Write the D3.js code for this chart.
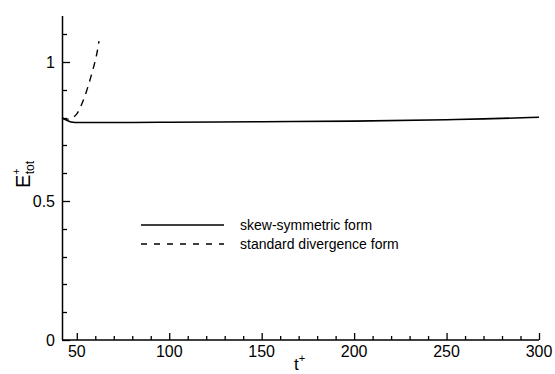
<!DOCTYPE html>
<html>
<head>
<meta charset="utf-8">
<script src="https://cdn.jsdelivr.net/npm/d3@7"></script>
<style>
body { margin: 0; background: #fff; }
text { font-family: "Liberation Sans", Arial, sans-serif; }
</style>
</head>
<body>
<script>
// data
var skewT = [42, 44, 46, 48, 50, 60, 80, 100, 150, 200, 250, 270, 300];
var skewE = [0.797, 0.792, 0.786, 0.783, 0.782, 0.782, 0.782, 0.783, 0.785, 0.787, 0.792, 0.795, 0.801];
var divT = [42, 44, 46, 48, 50, 52, 54, 56, 58, 60, 61, 62];
var divE = [0.800, 0.795, 0.794, 0.800, 0.813, 0.838, 0.870, 0.910, 0.955, 1.005, 1.035, 1.075];
var xTicks = [50, 100, 150, 200, 250, 300];
var yTicks = [0, 0.5, 1];
var legendLabels = ["skew-symmetric form", "standard divergence form"];

var w = 555, h = 374;
var mLeft = 62, mRight = 539, mTop = 16, mBottom = 340;

var svg = d3.select("body").append("svg")
	.attr("width", w)
	.attr("height", h);

var x = d3.scaleLinear().domain([42, 300]).range([mLeft, mRight]);
var y = d3.scaleLinear().domain([0, 1.165]).range([mBottom, mTop]);

// axes: ticks point inwards
var xMinor = d3.range(50, 301, 10).filter(function(d) { return xTicks.indexOf(d) < 0; });
var yMinor = [0.1, 0.2, 0.3, 0.4, 0.6, 0.7, 0.8, 0.9, 1.1];

var xAxis = svg.append("g").attr("transform", "translate(0," + mBottom + ")")
	.call(d3.axisTop(x).tickValues(xTicks).tickSize(7).tickFormat(""));
svg.append("g").attr("transform", "translate(0," + mBottom + ")")
	.call(d3.axisTop(x).tickValues(xMinor).tickSize(4).tickFormat(""))
	.select(".domain").remove();
xAxis.select(".domain").attr("d", "M" + mLeft + ",0H" + mRight);

// y axis line and ticks
function yPix(d) { return Math.round(y(d)) + 0.5; }
svg.append("line")
	.attr("x1", mLeft + 0.5).attr("x2", mLeft + 0.5)
	.attr("y1", mTop).attr("y2", mBottom)
	.attr("stroke", "#000").attr("stroke-width", 1.5);
svg.selectAll(".ymaj").data(yTicks).enter().append("line")
	.attr("class", "ymaj")
	.attr("x1", mLeft).attr("x2", mLeft + 8)
	.attr("y1", yPix)
	.attr("y2", yPix)
	.attr("stroke", "#000").attr("stroke-width", 1.3);
svg.selectAll(".ymin").data(yMinor).enter().append("line")
	.attr("class", "ymin")
	.attr("x1", mLeft).attr("x2", mLeft + 5)
	.attr("y1", yPix)
	.attr("y2", yPix)
	.attr("stroke", "#000").attr("stroke-width", 1.3);

svg.selectAll(".domain").attr("stroke", "#000").attr("stroke-width", 1.5);
svg.selectAll(".tick line").attr("stroke", "#000").attr("stroke-width", 1.3);

// tick labels
svg.selectAll(".xlab").data(xTicks).enter().append("text")
	.attr("x", function(d) { return x(d); })
	.attr("y", 357)
	.attr("text-anchor", "middle")
	.attr("font-size", "16px")
	.text(function(d) { return d; });

svg.selectAll(".ylab").data(yTicks).enter().append("text")
	.attr("x", 55)
	.attr("y", function(d) { return y(d) + 6; })
	.attr("text-anchor", "end")
	.attr("font-size", "16px")
	.text(function(d) { return d; });

// axis titles
var tl = svg.append("text")
	.attr("x", 294)
	.attr("y", 370)
	.attr("font-size", "17px");
tl.append("tspan").text("t");
tl.append("tspan").attr("font-size", "11px").attr("dy", -8).text("+");

var el = svg.append("text")
	.attr("transform", "translate(30,188) rotate(-90)")
	.attr("font-size", "20px");
el.append("tspan").text("E");
el.append("tspan").attr("font-size", "11px").attr("dy", -10).text("+");
el.append("tspan").attr("font-size", "12px").attr("dx", -6).attr("dy", 14).text("tot");

// curves
var line = d3.line()
	.x(function(d) { return x(d[0]); })
	.y(function(d) { return y(d[1]); })
	.curve(d3.curveMonotoneX);

svg.append("path")
	.datum(d3.zip(skewT, skewE))
	.attr("d", line)
	.attr("fill", "none")
	.attr("stroke", "#000")
	.attr("stroke-width", 1.6);

svg.append("path")
	.datum(d3.zip(divT, divE))
	.attr("d", line)
	.attr("fill", "none")
	.attr("stroke", "#000")
	.attr("stroke-width", 1.4)
	.attr("stroke-dasharray", "7,6");

// legend
var lg = svg.selectAll(".lg").data(legendLabels).enter().append("g")
	.attr("transform", function(d, i) { return "translate(141," + (225 + i * 19) + ")"; });
lg.append("line")
	.attr("x1", 0).attr("x2", 83)
	.attr("stroke", "#000")
	.attr("stroke-width", 1.4)
	.attr("stroke-dasharray", function(d, i) { return i ? "6,7" : null; });
lg.append("text")
	.attr("x", 99)
	.attr("y", 5)
	.attr("font-size", "14px")
	.text(function(d) { return d; });
</script>
</body>
</html>
